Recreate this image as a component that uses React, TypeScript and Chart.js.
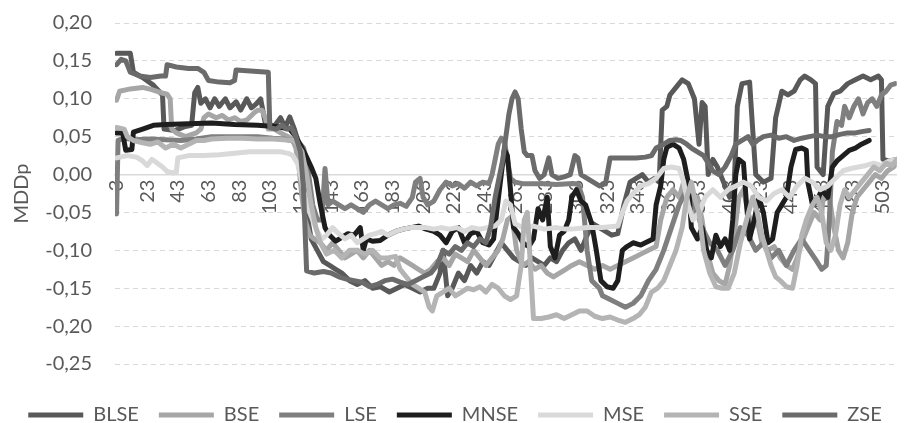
import React, { useEffect, useRef } from 'react';
import { Chart, registerables } from 'chart.js';

Chart.register(...registerables);

const FONT_FAMILY = 'Lato, "Open Sans", sans-serif';
const TEXT_COLOR = '#595959';

const SERIES_NAMES = ['BLSE', 'BSE', 'LSE', 'MNSE', 'MSE', 'SSE', 'ZSE'];
const SERIES_COLORS = ['#595959', '#a6a6a6', '#7f7f7f', '#1e1e1e', '#d9d9d9', '#b4b4b4', '#6b6b6b'];

const X_TICKS = [3, 23, 43, 63, 83, 103, 123, 143, 163, 183, 203, 223, 243, 263, 283, 303, 323, 343, 363, 383, 403, 423, 443, 463, 483, 503];
const X_MIN = 2;
const X_MAX = 512;
const Y_MIN = -0.25;
const Y_MAX = 0.2;
const Y_STEP = 0.05;

const BLSE: [number, number][] = [
  [3, 0.16], [12, 0.16], [14, 0.135], [20, 0.128], [27, 0.118], [33, 0.105], [34, 0.06], [41, 0.058], [47, 0.063], [52, 0.065],
  [54, 0.108], [56, 0.115], [58, 0.094], [61, 0.1], [64, 0.088], [67, 0.1], [70, 0.09], [74, 0.1], [77, 0.088], [81, 0.096],
  [84, 0.085], [88, 0.1], [91, 0.088], [94, 0.093], [97, 0.1], [100, 0.068], [106, 0.064], [110, 0.075], [113, 0.062], [116, 0.076],
  [119, 0.06], [122, 0.04], [125, 0.0], [127, -0.05], [130, -0.085], [134, -0.1], [138, -0.115], [142, -0.12], [146, -0.125], [150, -0.13],
  [155, -0.14], [160, -0.145], [165, -0.14], [170, -0.15], [175, -0.148], [181, -0.155], [186, -0.15], [191, -0.145], [196, -0.15], [201, -0.155],
  [206, -0.15], [210, -0.15], [214, -0.13], [216, -0.1], [219, -0.16], [222, -0.15], [226, -0.13], [230, -0.14], [234, -0.12], [238, -0.13],
  [242, -0.115], [246, -0.12], [250, -0.105], [254, -0.09], [258, -0.1], [262, -0.11], [266, -0.115], [270, -0.12], [274, -0.11], [278, -0.115],
  [282, -0.12], [286, -0.11], [290, -0.115], [294, -0.1], [298, -0.09], [302, -0.085], [306, -0.1], [310, -0.08], [314, -0.065], [318, -0.07],
  [322, -0.075], [326, -0.08], [330, -0.078], [334, -0.04], [338, -0.01], [342, -0.005], [346, 0.0], [350, -0.01], [354, -0.005], [357, -0.01],
  [359, 0.085], [362, 0.09], [364, 0.105], [368, 0.115], [372, 0.125], [376, 0.12], [380, 0.1], [383, 0.04], [385, 0.095], [387, 0.09],
  [389, 0.0], [392, 0.02], [395, 0.01], [399, -0.01], [403, -0.03], [406, -0.01], [408, 0.09], [411, 0.12], [416, 0.122], [418, 0.06],
  [420, 0.0], [425, -0.01], [430, -0.005], [433, 0.075], [437, 0.11], [441, 0.105], [445, 0.11], [449, 0.125], [452, 0.13], [456, 0.125],
  [459, 0.12], [460, 0.01], [464, 0.0], [467, 0.09], [471, 0.107], [475, 0.11], [480, 0.12], [485, 0.125], [490, 0.13], [495, 0.125],
  [500, 0.13], [502, 0.125], [503, 0.02], [507, 0.018], [512, 0.02],
];

const BSE: [number, number][] = [
  [3, 0.098], [5, 0.11], [12, 0.113], [20, 0.115], [26, 0.112], [32, 0.108], [36, 0.106], [38, 0.1], [39, 0.06], [42, 0.055],
  [48, 0.05], [55, 0.055], [58, 0.06], [60, 0.075], [63, 0.08], [68, 0.075], [72, 0.078], [76, 0.072], [80, 0.075], [84, 0.07],
  [88, 0.072], [92, 0.08], [95, 0.085], [98, 0.085], [100, 0.075], [102, 0.06], [106, 0.06], [110, 0.055], [115, 0.05], [118, 0.045],
  [120, 0.035], [122, 0.01], [124, -0.03], [126, -0.06], [129, -0.08], [132, -0.085], [136, -0.09], [140, -0.1], [144, -0.09], [148, -0.1],
  [152, -0.11], [156, -0.105], [160, -0.1], [164, -0.11], [168, -0.1], [172, -0.11], [176, -0.12], [180, -0.115], [184, -0.12], [188, -0.11],
  [192, -0.115], [196, -0.12], [200, -0.125], [204, -0.13], [208, -0.125], [212, -0.115], [216, -0.11], [220, -0.12], [224, -0.105], [228, -0.11],
  [232, -0.115], [236, -0.1], [240, -0.11], [244, -0.12], [248, -0.11], [252, -0.1], [255, -0.085], [258, -0.06], [261, -0.055], [264, -0.1],
  [268, -0.12], [272, -0.115], [276, -0.125], [280, -0.12], [284, -0.13], [288, -0.135], [292, -0.13], [296, -0.125], [300, -0.12], [305, -0.115],
  [310, -0.12], [315, -0.125], [320, -0.12], [325, -0.125], [330, -0.12], [335, -0.115], [340, -0.11], [345, -0.105], [350, -0.1], [355, -0.095],
  [358, -0.06], [362, -0.03], [366, -0.02], [370, -0.03], [373, -0.01], [376, -0.02], [379, -0.05], [382, -0.03], [385, -0.06], [388, -0.1],
  [392, -0.13], [396, -0.14], [400, -0.145], [403, -0.12], [406, -0.08], [409, -0.03], [412, -0.02], [415, -0.05], [418, -0.07], [421, -0.06],
  [424, -0.09], [428, -0.1], [432, -0.095], [436, -0.11], [440, -0.12], [444, -0.125], [447, -0.11], [450, -0.09], [454, -0.07], [458, -0.05],
  [462, -0.06], [465, -0.02], [468, -0.03], [471, -0.07], [474, -0.1], [477, -0.11], [480, -0.09], [483, -0.05], [486, -0.03], [490, -0.02],
  [494, -0.01], [498, 0.0], [502, -0.005], [506, 0.005], [510, 0.01], [512, 0.015],
];

const LSE: [number, number][] = [
  [3, -0.052], [4, 0.045], [8, 0.048], [15, 0.046], [25, 0.047], [35, 0.046], [45, 0.045], [55, 0.047], [65, 0.05], [75, 0.05],
  [85, 0.05], [95, 0.05], [105, 0.048], [112, 0.047], [117, 0.045], [120, 0.042], [123, 0.04], [125, 0.035], [127, 0.02], [129, -0.01],
  [131, -0.04], [134, -0.06], [137, -0.06], [139, 0.008], [141, -0.04], [144, -0.035], [148, -0.04], [152, -0.045], [156, -0.04], [160, -0.045],
  [164, -0.05], [168, -0.04], [172, -0.035], [176, -0.04], [180, -0.045], [184, -0.04], [188, -0.038], [192, -0.042], [196, -0.03], [198, -0.01],
  [201, -0.005], [203, -0.03], [206, -0.04], [210, -0.035], [214, -0.02], [218, -0.01], [222, -0.015], [226, -0.012], [230, -0.018], [234, -0.01],
  [238, -0.015], [242, -0.01], [246, -0.012], [248, 0.0], [250, 0.02], [252, 0.04], [254, 0.048], [256, 0.045], [258, 0.02], [260, -0.005],
  [263, -0.01], [268, -0.012], [275, -0.012], [282, -0.012], [290, -0.013], [298, -0.012], [304, -0.012], [307, -0.03], [310, -0.1], [313, -0.14],
  [318, -0.15], [320, -0.16], [325, -0.165], [330, -0.17], [335, -0.175], [340, -0.17], [345, -0.16], [350, -0.14], [355, -0.125], [360, -0.1],
  [365, -0.07], [370, -0.04], [375, -0.02], [380, -0.04], [385, -0.07], [390, -0.09], [395, -0.1], [400, -0.12], [405, -0.1], [410, -0.07],
  [415, -0.08], [420, -0.1], [425, -0.09], [430, -0.11], [435, -0.1], [440, -0.12], [445, -0.1], [450, -0.085], [455, -0.1], [460, -0.115],
  [463, -0.125], [466, -0.12], [468, -0.06], [470, 0.03], [473, 0.07], [476, 0.065], [478, 0.09], [481, 0.075], [484, 0.09], [487, 0.1],
  [490, 0.08], [493, 0.095], [496, 0.1], [499, 0.09], [502, 0.105], [505, 0.11], [508, 0.118], [511, 0.12],
];

const MNSE: [number, number][] = [
  [3, 0.055], [7, 0.055], [9, 0.032], [13, 0.033], [14, 0.056], [20, 0.06], [27, 0.065], [35, 0.066], [50, 0.067], [65, 0.068],
  [80, 0.066], [95, 0.065], [108, 0.063], [116, 0.06], [120, 0.05], [124, 0.035], [127, 0.023], [130, 0.01], [133, -0.005], [136, -0.04],
  [139, -0.07], [142, -0.08], [146, -0.088], [150, -0.083], [154, -0.078], [158, -0.08], [162, -0.07], [164, -0.1], [166, -0.085], [170, -0.088],
  [175, -0.087], [180, -0.08], [185, -0.075], [190, -0.072], [195, -0.07], [200, -0.068], [205, -0.072], [210, -0.075], [214, -0.08], [218, -0.09],
  [222, -0.075], [226, -0.07], [230, -0.09], [234, -0.078], [238, -0.075], [242, -0.09], [246, -0.093], [249, -0.085], [251, -0.05], [254, 0.0],
  [256, 0.033], [258, 0.025], [260, -0.02], [262, -0.07], [265, -0.078], [268, -0.09], [272, -0.095], [275, -0.085], [278, -0.045], [281, -0.06],
  [284, -0.03], [286, -0.095], [289, -0.11], [292, -0.08], [295, -0.075], [298, -0.06], [300, -0.03], [303, -0.02], [306, -0.035], [309, -0.04],
  [313, -0.065], [316, -0.1], [319, -0.14], [323, -0.148], [327, -0.15], [330, -0.14], [333, -0.1], [336, -0.095], [340, -0.09], [345, -0.093],
  [350, -0.088], [353, -0.085], [355, -0.04], [358, -0.015], [360, 0.02], [362, 0.036], [366, 0.04], [370, 0.035], [373, 0.02], [376, -0.01],
  [378, -0.07], [382, -0.085], [385, -0.07], [388, -0.1], [391, -0.11], [394, -0.08], [397, -0.095], [400, -0.085], [403, -0.1], [405, -0.06],
  [407, 0.0], [409, 0.02], [412, 0.015], [414, -0.04], [416, -0.085], [419, -0.06], [422, -0.03], [425, -0.05], [428, -0.09], [431, -0.085],
  [434, -0.05], [437, -0.04], [440, -0.03], [443, 0.01], [446, 0.033], [450, 0.035], [453, 0.032], [454, -0.01], [457, -0.04], [460, -0.035],
  [463, -0.02], [467, -0.03], [470, 0.01], [473, 0.018], [477, 0.025], [481, 0.032], [485, 0.035], [489, 0.04], [494, 0.045],
];

const MSE: [number, number][] = [
  [3, 0.022], [10, 0.025], [16, 0.023], [20, 0.018], [23, 0.012], [26, 0.02], [29, 0.016], [33, 0.01], [36, 0.004], [40, 0.002],
  [42, 0.003], [43, 0.022], [50, 0.025], [60, 0.025], [70, 0.026], [80, 0.028], [90, 0.03], [100, 0.03], [110, 0.03], [115, 0.028],
  [118, 0.025], [121, 0.015], [123, 0.0], [125, -0.02], [128, -0.045], [131, -0.06], [134, -0.075], [137, -0.085], [140, -0.08], [144, -0.07],
  [148, -0.078], [152, -0.085], [156, -0.08], [160, -0.09], [164, -0.085], [168, -0.08], [172, -0.078], [176, -0.075], [180, -0.08], [185, -0.075],
  [190, -0.072], [195, -0.07], [200, -0.07], [205, -0.07], [210, -0.072], [215, -0.07], [220, -0.072], [225, -0.07], [230, -0.075], [235, -0.07],
  [240, -0.072], [245, -0.07], [250, -0.068], [254, -0.06], [257, -0.035], [260, -0.04], [263, -0.065], [268, -0.07], [275, -0.068], [282, -0.072],
  [290, -0.07], [296, -0.072], [300, -0.072], [310, -0.07], [320, -0.07], [330, -0.068], [333, -0.05], [336, -0.035], [340, -0.025], [345, -0.015],
  [350, -0.012], [355, -0.005], [360, 0.008], [365, 0.01], [370, 0.008], [373, -0.01], [376, -0.04], [379, -0.06], [383, -0.05], [387, -0.03],
  [392, -0.02], [397, -0.03], [402, -0.02], [407, -0.015], [412, -0.01], [417, -0.015], [422, -0.03], [427, -0.035], [432, -0.025], [437, -0.02],
  [442, -0.03], [447, -0.015], [452, -0.005], [457, -0.01], [462, -0.02], [467, -0.015], [472, -0.005], [477, 0.005], [482, 0.008], [487, 0.01],
  [492, 0.012], [497, 0.015], [502, 0.012], [507, 0.018], [512, 0.02],
];

const SSE: [number, number][] = [
  [3, 0.062], [8, 0.06], [10, 0.05], [14, 0.045], [20, 0.042], [25, 0.04], [30, 0.043], [35, 0.035], [40, 0.04], [45, 0.035],
  [50, 0.04], [55, 0.045], [60, 0.045], [65, 0.047], [75, 0.048], [85, 0.048], [95, 0.047], [105, 0.047], [112, 0.046], [118, 0.045],
  [121, 0.04], [124, 0.03], [127, 0.0], [130, -0.04], [133, -0.07], [136, -0.09], [140, -0.105], [145, -0.1], [150, -0.11], [155, -0.1],
  [160, -0.1], [165, -0.105], [170, -0.1], [175, -0.11], [180, -0.11], [185, -0.108], [188, -0.125], [192, -0.135], [196, -0.145], [200, -0.15],
  [204, -0.155], [207, -0.175], [209, -0.18], [212, -0.16], [216, -0.155], [220, -0.15], [224, -0.16], [228, -0.155], [232, -0.15], [236, -0.152],
  [240, -0.148], [244, -0.155], [248, -0.145], [252, -0.15], [256, -0.16], [260, -0.165], [264, -0.16], [267, -0.12], [269, -0.06], [271, -0.05],
  [273, -0.12], [275, -0.19], [280, -0.19], [285, -0.188], [290, -0.185], [295, -0.19], [300, -0.185], [305, -0.18], [310, -0.18], [315, -0.187],
  [320, -0.19], [325, -0.188], [330, -0.192], [335, -0.195], [340, -0.19], [344, -0.185], [348, -0.175], [352, -0.155], [356, -0.15], [360, -0.14],
  [364, -0.12], [368, -0.1], [372, -0.07], [375, -0.03], [378, -0.01], [380, -0.03], [383, -0.05], [386, -0.1], [390, -0.13], [394, -0.148],
  [398, -0.15], [402, -0.15], [406, -0.13], [410, -0.09], [414, -0.06], [418, -0.03], [421, -0.05], [424, -0.08], [427, -0.1], [430, -0.12],
  [433, -0.135], [436, -0.14], [440, -0.148], [444, -0.15], [447, -0.12], [450, -0.08], [453, -0.06], [457, -0.04], [460, -0.03], [463, -0.05],
  [466, -0.09], [469, -0.1], [472, -0.08], [475, -0.04], [478, -0.02], [481, -0.03], [485, -0.02], [489, -0.01], [493, 0.0], [497, 0.01],
  [501, 0.005], [505, 0.015], [509, 0.012], [512, 0.02],
];

const ZSE: [number, number][] = [
  [3, 0.145], [6, 0.152], [9, 0.15], [12, 0.135], [18, 0.13], [25, 0.128], [32, 0.13], [35, 0.13], [36, 0.145], [42, 0.142],
  [50, 0.14], [56, 0.14], [60, 0.135], [63, 0.124], [70, 0.122], [77, 0.121], [80, 0.124], [81, 0.138], [88, 0.137], [95, 0.136],
  [102, 0.135], [103, 0.062], [107, 0.06], [111, 0.065], [114, 0.06], [117, 0.062], [120, 0.05], [123, 0.03], [125, -0.02], [127, -0.127],
  [132, -0.13], [138, -0.128], [143, -0.13], [148, -0.135], [153, -0.138], [158, -0.14], [163, -0.142], [168, -0.148], [173, -0.145], [178, -0.14],
  [183, -0.138], [188, -0.142], [193, -0.145], [198, -0.14], [203, -0.135], [208, -0.13], [212, -0.12], [216, -0.1], [220, -0.105], [224, -0.095],
  [228, -0.1], [232, -0.09], [236, -0.095], [240, -0.085], [244, -0.09], [247, -0.07], [250, -0.03], [253, 0.0], [255, 0.02], [257, 0.05],
  [259, 0.08], [261, 0.1], [263, 0.109], [265, 0.1], [267, 0.06], [269, 0.03], [271, 0.025], [274, 0.025], [276, 0.005], [279, -0.005],
  [282, 0.0], [285, 0.022], [287, 0.0], [291, -0.005], [295, -0.003], [299, 0.0], [302, 0.025], [304, 0.022], [306, 0.0], [310, -0.005],
  [314, -0.01], [318, -0.015], [322, -0.012], [325, 0.022], [330, 0.022], [336, 0.022], [342, 0.022], [348, 0.023], [352, 0.025], [355, 0.035],
  [360, 0.04], [364, 0.045], [368, 0.046], [371, 0.045], [375, 0.04], [378, 0.035], [382, 0.03], [386, 0.025], [389, 0.015], [392, 0.005],
  [396, 0.0], [400, 0.01], [404, 0.025], [407, 0.04], [411, 0.045], [415, 0.05], [418, 0.04], [421, 0.045], [425, 0.05], [430, 0.052],
  [435, 0.048], [440, 0.05], [445, 0.045], [450, 0.048], [455, 0.05], [460, 0.052], [465, 0.05], [470, 0.05], [475, 0.053], [480, 0.055],
  [485, 0.055], [490, 0.057], [494, 0.058],
];

const SERIES_DATA = [BLSE, BSE, LSE, MNSE, MSE, SSE, ZSE];

function formatComma(v: number): string {
  const r = Math.round(v * 100) / 100;
  return (r === 0 ? 0 : r).toFixed(2).replace('.', ',');
}

export default function App() {
  const canvasRef = useRef<HTMLCanvasElement | null>(null);

  useEffect(() => {
    document.body.style.margin = '0';
    const canvas = canvasRef.current;
    if (!canvas) return;

    const datasets = SERIES_NAMES.map((name, i) => ({
      label: name,
      data: SERIES_DATA[i].map(([x, y]) => ({ x, y })),
      borderColor: SERIES_COLORS[i],
      backgroundColor: SERIES_COLORS[i],
      borderWidth: 5,
      borderCapStyle: 'round' as const,
      borderJoinStyle: 'round' as const,
      pointRadius: 0,
      pointHoverRadius: 0,
      tension: 0,
      order: SERIES_NAMES.length - i,
    }));

    const chart = new Chart(canvas, {
      type: 'line',
      data: { datasets },
      options: {
        animation: false,
        responsive: false,
        maintainAspectRatio: false,
        layout: { padding: { top: 23, left: 0, right: 2, bottom: -12 } },
        plugins: {
          tooltip: { enabled: false },
          legend: {
            position: 'bottom',
            title: { display: true, text: '', padding: 0, font: { size: 14, lineHeight: 1.5 } },
            labels: {
              usePointStyle: true,
              pointStyle: 'line',
              pointStyleWidth: 55,
              padding: 20,
              color: TEXT_COLOR,
              font: { size: 20, family: FONT_FAMILY },
              sort: (a: any, b: any) => a.datasetIndex - b.datasetIndex,
            },
          },
        },
        scales: {
          x: {
            type: 'linear',
            min: X_MIN,
            max: X_MAX,
            position: { y: 0 } as any,
            grid: { display: false, drawTicks: false },
            border: { display: true, color: '#d9d9d9', width: 1.5 },
            afterBuildTicks: (axis: any) => {
              axis.ticks = X_TICKS.map((v) => ({ value: v }));
            },
            ticks: {
              autoSkip: false,
              minRotation: 90,
              maxRotation: 90,
              padding: 5,
              color: TEXT_COLOR,
              font: { size: 20, family: FONT_FAMILY },
              callback: (v: any) => String(v),
            },
          },
          y: {
            type: 'linear',
            position: 'left',
            min: Y_MIN,
            max: Y_MAX,
            afterFit: (scale: any) => {
              scale.width = 115;
              scale.paddingTop = 0;
              scale.paddingBottom = 0;
            },
            grid: { color: '#d9d9d9', lineWidth: 1, drawTicks: false },
            border: { display: false, dash: [5, 4] },
            ticks: {
              stepSize: Y_STEP,
              padding: 23,
              color: TEXT_COLOR,
              font: { size: 20, family: FONT_FAMILY },
              callback: (v: any) => formatComma(Number(v)),
            },
            title: {
              display: true,
              text: 'MDDp',
              color: TEXT_COLOR,
              font: { size: 20, family: FONT_FAMILY },
              padding: { top: 10, bottom: 0 },
            },
          },
        },
      },
    });

    return () => {
      chart.destroy();
    };
  }, []);

  return (
    <div style={{ width: 912, height: 423, position: 'relative' }}>
      <canvas ref={canvasRef} width={912} height={423} style={{ display: 'block' }} />
    </div>
  );
}
